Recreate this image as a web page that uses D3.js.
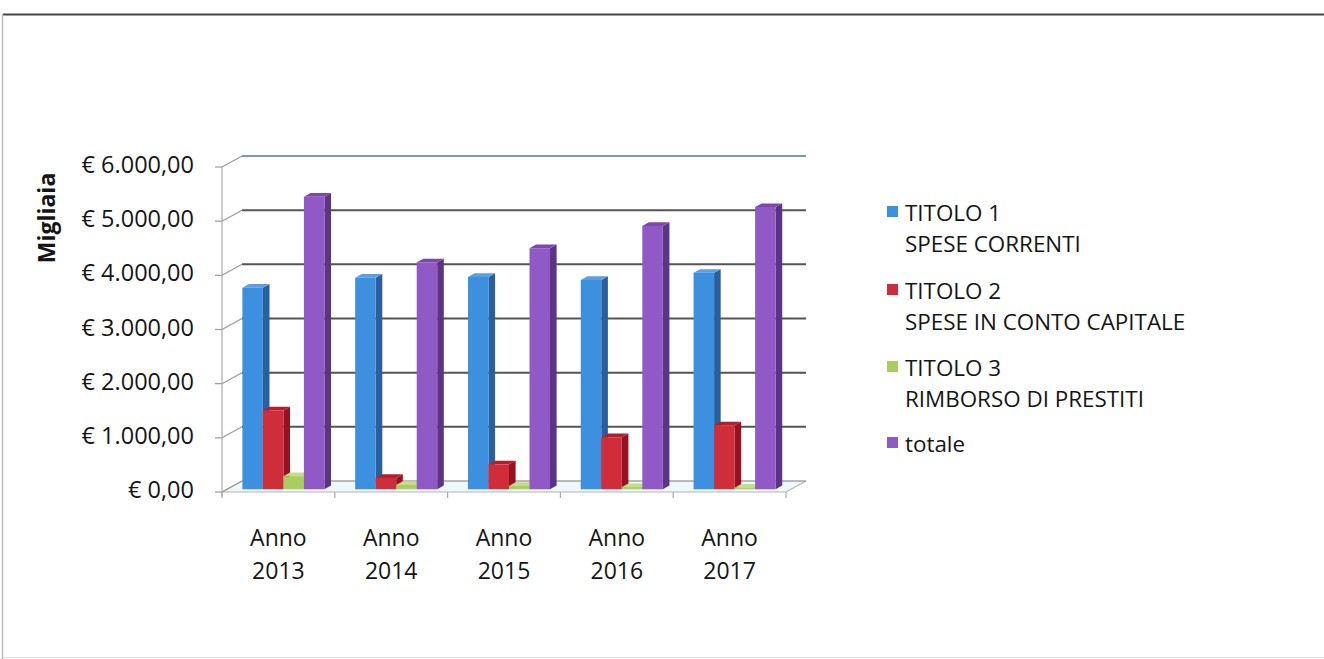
<!DOCTYPE html>
<html>
<head>
<meta charset="utf-8">
<script src="https://cdn.jsdelivr.net/npm/d3@7"></script>
<style>
  body { margin: 0; background: #fff; }
  svg { display: block; font-family: "Open Sans", sans-serif; }
</style>
</head>
<body>
<svg id="chart" width="1324" height="659"></svg>
<script>
// data (migliaia di euro)
var anni = ["2013", "2014", "2015", "2016", "2017"];
var titolo1 = [3720, 3905, 3920, 3865, 3995];
var titolo2 = [1455, 210, 460, 960, 1180];
var titolo3 = [240, 80, 60, 40, 30];
var totale = [5400, 4190, 4450, 4860, 5210];
var yTicks = [0, 1000, 2000, 3000, 4000, 5000, 6000];

var serie = [
  {nome: ["TITOLO 1", "SPESE CORRENTI"], valori: titolo1, front: "#3d8fdf", side: "#2a5f9f", top: "#5a9fe2"},
  {nome: ["TITOLO 2", "SPESE IN CONTO CAPITALE"], valori: titolo2, front: "#cf2d3a", side: "#961222", top: "#b0212d"},
  {nome: ["TITOLO 3", "RIMBORSO DI PRESTITI"], valori: titolo3, front: "#a9cd5e", side: "#7b9b34", top: "#c3de86"},
  {nome: ["totale"], valori: totale, front: "#9159c5", side: "#5c3485", top: "#7a49aa"}
];

var svg = d3.select("#chart");

// outer frame of the scanned page
svg.append("line").attr("x1", 3).attr("y1", 14.5).attr("x2", 1324).attr("y2", 14.5)
  .attr("stroke", "#444").attr("stroke-width", 2.2);
svg.append("line").attr("x1", 2.5).attr("y1", 14).attr("x2", 2.5).attr("y2", 659)
  .attr("stroke", "#bbb").attr("stroke-width", 1.5);
svg.append("line").attr("x1", 3).attr("y1", 657.5).attr("x2", 1324).attr("y2", 657.5)
  .attr("stroke", "#e4e4e4").attr("stroke-width", 1);

// 3d projection: depth z in [0,1]
var DX = 20, DY = -11;
var y = d3.scaleLinear().domain([0, 6000]).range([492, 167]);
var x = d3.scaleBand().domain(anni).range([222, 786]);
var xs = d3.scaleBand().domain(d3.range(serie.length)).range([0, x.bandwidth()]).paddingOuter(0.75);

function P(px, v, z) { return [px + z * DX, y(v) + z * DY]; }
function poly(pts) { return "M" + pts.map(function(p) { return p[0] + "," + p[1]; }).join("L") + "Z"; }

var g = svg.append("g");

// floor
g.append("path")
  .attr("d", poly([P(222, 0, 0), P(786, 0, 0), P(786, 0, 1), P(222, 0, 1)]))
  .attr("fill", "#eef7f9").attr("stroke", "#b5b5b5").attr("stroke-width", 1.2);

// back wall gridlines + side wall diagonals + ticks
yTicks.forEach(function(t) {
  var b0 = P(222, t, 1), b1 = P(786, t, 1), f0 = P(222, t, 0);
  g.append("line").attr("x1", b0[0]).attr("y1", b0[1]).attr("x2", b1[0]).attr("y2", b1[1])
    .attr("stroke", t == 6000 ? "#7d9aa3" : (t == 0 ? "#9a9a9a" : "#555")).attr("stroke-width", t == 0 ? 1.2 : 2);
  g.append("line").attr("x1", f0[0]).attr("y1", f0[1]).attr("x2", b0[0]).attr("y2", b0[1])
    .attr("stroke", "#999").attr("stroke-width", 1.2);
  g.append("line").attr("x1", f0[0] - 7).attr("y1", f0[1]).attr("x2", f0[0]).attr("y2", f0[1])
    .attr("stroke", "#999").attr("stroke-width", 1.2);
});

// front value axis
g.append("line").attr("x1", 222).attr("y1", y(6000)).attr("x2", 222).attr("y2", y(0) + 4)
  .attr("stroke", "#aaa").attr("stroke-width", 1.2);
// category ticks
anni.concat(["end"]).forEach(function(a, i) {
  var px = i < anni.length ? x(a) : x.range()[1];
  g.append("line").attr("x1", px).attr("y1", y(0)).attr("x2", px).attr("y2", y(0) + 6)
    .attr("stroke", "#aaa").attr("stroke-width", 1.2);
});

// bars
var zf = 0.25, zb = 0.58;
anni.forEach(function(a, i) {
  serie.forEach(function(s, j) {
    var v = s.valori[i];
    var x0 = x(a) + xs(j), x1 = x0 + xs.bandwidth();
    var bar = g.append("g");
    bar.append("path").attr("d", poly([P(x1, 0, zf), P(x1, 0, zb), P(x1, v, zb), P(x1, v, zf)]))
      .attr("fill", s.side);
    bar.append("path").attr("d", poly([P(x0, v, zf), P(x1, v, zf), P(x1, v, zb), P(x0, v, zb)]))
      .attr("fill", s.top);
    bar.append("path").attr("d", poly([P(x0, 0, zf), P(x1, 0, zf), P(x1, v, zf), P(x0, v, zf)]))
      .attr("fill", s.front);
  });
});

// y axis labels
var fmt = d3.formatLocale({decimal: ",", thousands: ".", grouping: [3], currency: ["€ ", ""]}).format("$,.2f");
yTicks.forEach(function(t) {
  svg.append("text").attr("x", 194).attr("y", y(t) - 3)
    .attr("text-anchor", "end").attr("dominant-baseline", "central")
    .attr("font-size", 23.5).attr("fill", "#151515").text(fmt(t));
});

svg.append("text").attr("transform", "translate(46,218) rotate(-90)")
  .attr("text-anchor", "middle").attr("dominant-baseline", "central")
  .attr("font-size", 23).attr("font-weight", "bold").attr("fill", "#151515").text("Migliaia");

// x labels
anni.forEach(function(a) {
  var cx = x(a) + x.bandwidth() / 2;
  svg.append("text").attr("x", cx).attr("y", 537).attr("text-anchor", "middle")
    .attr("dominant-baseline", "central").attr("font-size", 23).attr("fill", "#151515").text("Anno");
  svg.append("text").attr("x", cx).attr("y", 570).attr("text-anchor", "middle")
    .attr("dominant-baseline", "central").attr("font-size", 23).attr("fill", "#151515").text(a);
});

// legend
var legY = [212, 290, 367, 443];
serie.forEach(function(s, j) {
  svg.append("rect").attr("x", 887).attr("y", legY[j] - 6).attr("width", 11).attr("height", 11)
    .attr("fill", s.front);
  s.nome.forEach(function(r, k) {
    svg.append("text").attr("x", 905).attr("y", legY[j] + k * 31)
      .attr("dominant-baseline", "central").attr("font-size", 22.4).attr("fill", "#151515").text(r);
  });
});
</script>
</body>
</html>
